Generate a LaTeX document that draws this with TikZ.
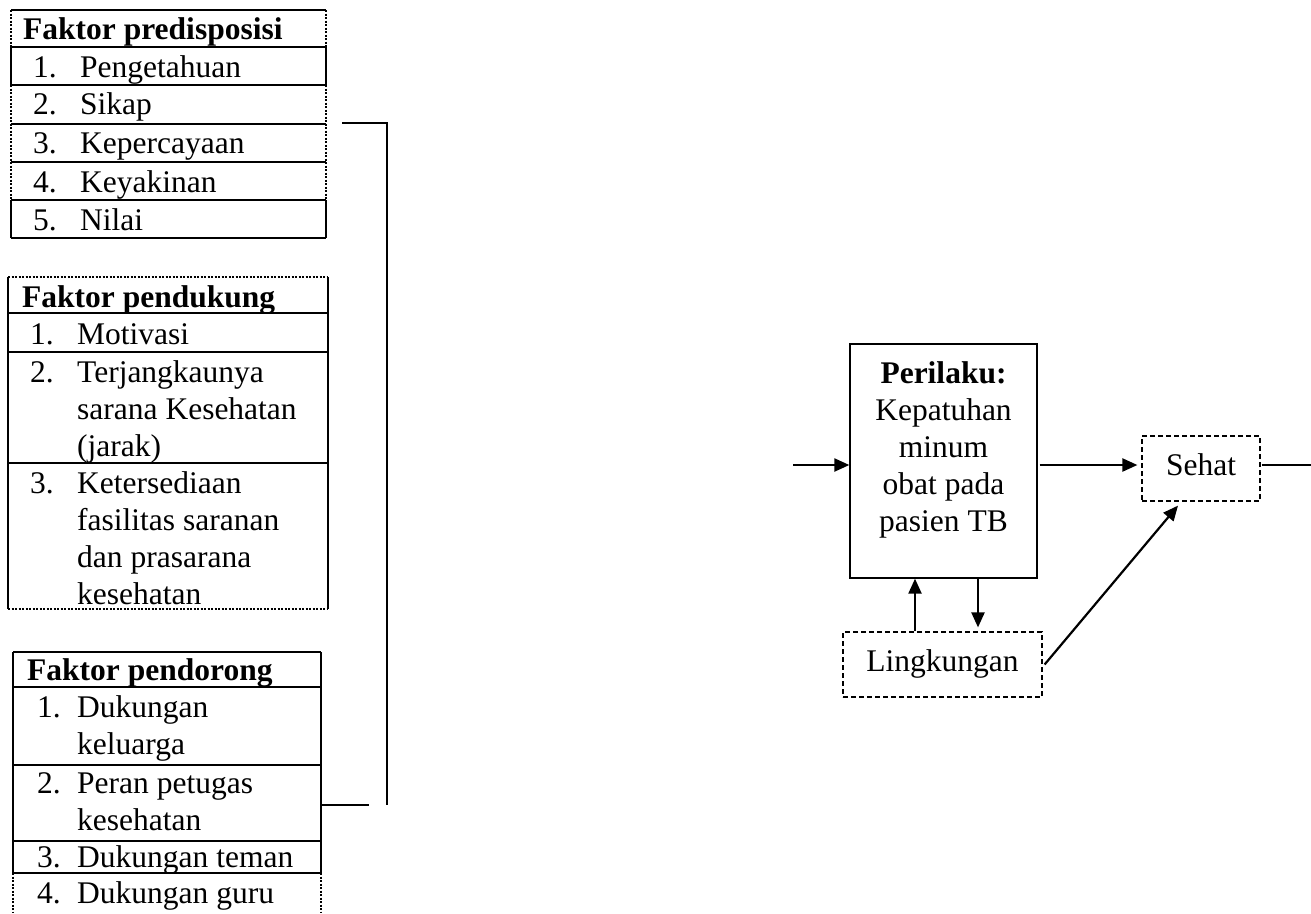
\documentclass[tikz,border=0pt]{standalone}
\usepackage{fontspec}
\setmainfont{Liberation Serif}
\usetikzlibrary{arrows.meta}
\begin{document}
\begin{tikzpicture}[x=1pt,y=-1pt,
  txt/.style={inner sep=0pt, anchor=base west, font=\fontsize{31.5}{37}\selectfont, align=left},
  hd/.style={txt, font=\fontsize{31.5}{37}\selectfont\bfseries},
  solidln/.style={line width=1.9pt},
  dotln/.style={line width=1.9pt, dash pattern=on 2pt off 1.5pt},
  dashbox/.style={draw, line width=1.2pt, dash pattern=on 5pt off 3pt, inner sep=0pt,
    font=\fontsize{31.5}{37}\selectfont, text height=22pt, text depth=8pt},
  solidbox/.style={draw, line width=1.3pt, inner sep=0pt},
  arr/.style={line width=2.2pt, -{Triangle[length=15pt,width=13pt]}},
  brk/.style={line width=1.7pt},
]
\useasboundingbox (0,0) rectangle (1311,913);

% ---------- Faktor predisposisi ----------
\draw[solidln] (11,10) -- (326,10);
\foreach \y in {47,85,124,162,200,238} \draw[solidln] (11,\y) -- (326,\y);
\draw[dotln] (11,10) -- (11,47);   \draw[dotln] (326,10) -- (326,47);
\draw[solidln] (11,47) -- (11,85); \draw[solidln] (326,47) -- (326,85);
\draw[dotln] (11,85) -- (11,200);  \draw[dotln] (326,85) -- (326,200);
\draw[solidln] (11,200) -- (11,238); \draw[solidln] (326,200) -- (326,238);
\node[hd] (h1) at (23,39) {Faktor predisposisi};
\node[txt] (a1n) at (33,77) {1.};  \node[txt] (a1) at (80,77) {Pengetahuan};
\node[txt] (a2n) at (33,114) {2.}; \node[txt] (a2) at (80,114) {Sikap};
\node[txt] (a3n) at (33,153) {3.}; \node[txt] (a3) at (80,153) {Kepercayaan};
\node[txt] (a4n) at (33,192) {4.}; \node[txt] (a4) at (80,192) {Keyakinan};
\node[txt] (a5n) at (33,230) {5.}; \node[txt] (a5) at (80,230) {Nilai};

% ---------- Faktor pendukung ----------
\draw[dotln] (8,277) -- (328,277);
\foreach \y in {313,352,463} \draw[solidln] (8,\y) -- (328,\y);
\draw[dotln] (8,609) -- (328,609);
\draw[solidln] (8,277) -- (8,609); \draw[solidln] (328,277) -- (328,609);
\node[hd] (h2) at (22,307) {Faktor pendukung};
\node[txt] (b1n) at (30,344) {1.}; \node[txt] (b1) at (77,344) {Motivasi};
% multi-line nodes: base anchor = baseline of last line
\node[txt] (b2n) at (30,382) {2.}; \node[txt] (b2) at (77,456) {Terjangkaunya\\sarana Kesehatan\\(jarak)};
\node[txt] (b3n) at (30,493) {3.}; \node[txt] (b3) at (77,604) {Ketersediaan\\fasilitas saranan\\dan prasarana\\kesehatan};

% ---------- Faktor pendorong ----------
\draw[solidln] (13,652) -- (321,652);
\foreach \y in {687,765,841,873} \draw[solidln] (13,\y) -- (321,\y);
\draw[solidln] (13,652) -- (13,873); \draw[solidln] (321,652) -- (321,873);
\draw[dotln] (13,873) -- (13,913); \draw[dotln] (321,873) -- (321,913);
\node[hd] (h3) at (27,680) {Faktor pendorong};
\node[txt] (c1n) at (37,717) {1.}; \node[txt] (c1) at (77,754) {Dukungan\\keluarga};
\node[txt] (c2n) at (37,793) {2.}; \node[txt] (c2) at (77,830) {Peran petugas\\kesehatan};
\node[txt] (c3n) at (37,867) {3.}; \node[txt] (c3) at (77,867) {Dukungan teman};
\node[txt] (c4n) at (37,903) {4.}; \node[txt] (c4) at (77,903) {Dukungan guru};

% ---------- bracket ----------
\coordinate (k1) at (342,123);
\coordinate (k2) at (387,123);
\coordinate (k3) at (387,805);
\coordinate (k4) at (321,805);
\coordinate (k5) at (369,805);
\draw[brk] (k1) -- (k2) -- (k3);
\draw[brk] (k4) -- (k5);

% ---------- right part ----------
\node[solidbox, minimum width=187pt, minimum height=234pt] (per) at (943.5,461) {};
\node[txt, anchor=base, align=center] (pertxt) at (943.5,531)
  {\textbf{Perilaku:}\\Kepatuhan\\minum\\obat pada\\pasien TB};
\node[dashbox, minimum width=118pt, minimum height=65pt] (seh) at (1201,468.5) {Sehat};
\node[dashbox, minimum width=199pt, minimum height=65pt] (ling) at (942.5,664.5) {Lingkungan};

\coordinate (in) at (793,465);
\coordinate (out) at (1311,465);
\coordinate (ux) at (915,600);
\coordinate (dx) at (978,600);

\draw[arr] (in) -- (in -| per.west);
\draw[arr, shorten >=4pt] ([xshift=2pt]in -| per.east) -- (in -| seh.west);
\draw[line width=2.2pt] ([xshift=1pt]in -| seh.east) -- (out);
\draw[arr] (ux |- ling.north) -- (ux |- per.south);
\draw[arr, shorten >=4pt] (dx |- per.south) -- (dx |- ling.north);
\draw[arr] ([xshift=2pt]ling.east) -- ([xshift=-23pt,yshift=-4pt]seh.south);
\end{tikzpicture}
\end{document}
